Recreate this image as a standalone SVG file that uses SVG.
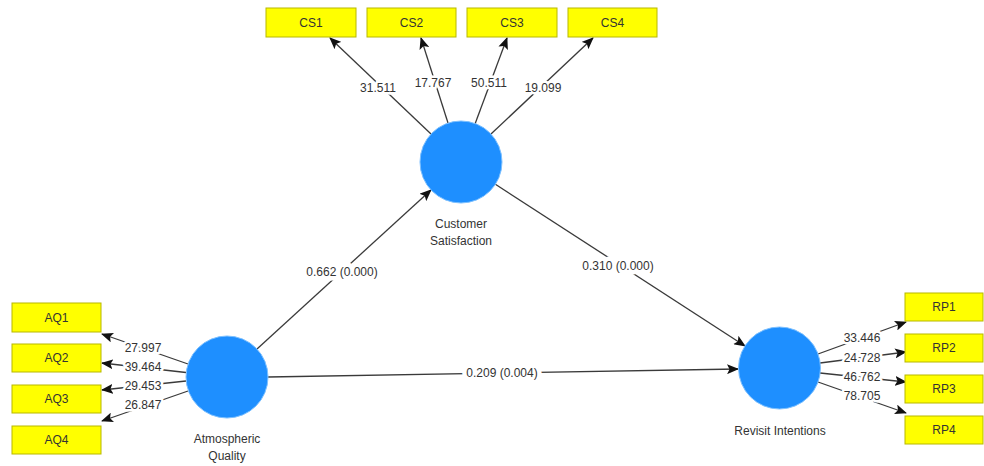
<svg xmlns="http://www.w3.org/2000/svg" width="984" height="466" viewBox="0 0 984 466">
<style>
text{font-family:"Liberation Sans",Arial,sans-serif;font-size:12px;fill:#333;text-anchor:middle}
.box{fill:#ffff00;stroke:#b8b800;stroke-width:1}
.lv{fill:#1e8fff;stroke:#7cc0ff;stroke-width:1}
.ln{stroke:#3a3a3a;stroke-width:1.3;fill:none;marker-end:url(#ah)}
.lbl{stroke:#fff;stroke-width:5;paint-order:stroke;stroke-linejoin:round}
</style>
<defs>
<marker id="ah" markerUnits="userSpaceOnUse" markerWidth="12" markerHeight="10" refX="11" refY="5" orient="auto">
<path d="M0,0 L12,5 L0,10 L2.5,5 z" fill="#111"/>
</marker>
</defs>
<rect width="984" height="466" fill="#fff"/>
<g id="connectors">
<line class="ln" x1="431" y1="134" x2="330" y2="38"/>
<line class="ln" x1="448" y1="123" x2="421" y2="38"/>
<line class="ln" x1="475" y1="124" x2="507" y2="38"/>
<line class="ln" x1="491" y1="134" x2="593" y2="38"/>
<line class="ln" x1="188" y1="364" x2="102" y2="334"/>
<line class="ln" x1="186" y1="372.5" x2="102" y2="363"/>
<line class="ln" x1="186" y1="381" x2="102" y2="390"/>
<line class="ln" x1="188" y1="391" x2="102" y2="421"/>
<line class="ln" x1="818" y1="354" x2="906" y2="322"/>
<line class="ln" x1="820" y1="363" x2="906" y2="352"/>
<line class="ln" x1="820" y1="373" x2="906" y2="382"/>
<line class="ln" x1="818" y1="382" x2="906" y2="413"/>
<line class="ln" x1="257" y1="349" x2="431" y2="190"/>
<line class="ln" x1="495" y1="184" x2="745" y2="346"/>
<line class="ln" x1="268" y1="377" x2="738" y2="369"/>
<text class="lbl" x="378" y="92">31.511</text>
<text class="lbl" x="433" y="87">17.767</text>
<text class="lbl" x="489" y="87">50.511</text>
<text class="lbl" x="543" y="92">19.099</text>
<text class="lbl" x="143" y="352">27.997</text>
<text class="lbl" x="143" y="371">39.464</text>
<text class="lbl" x="143" y="390">29.453</text>
<text class="lbl" x="143" y="409">26.847</text>
<text class="lbl" x="862" y="342">33.446</text>
<text class="lbl" x="862" y="362">24.728</text>
<text class="lbl" x="862" y="381">46.762</text>
<text class="lbl" x="862" y="400">78.705</text>
<text class="lbl" x="342" y="276" style="stroke-width:9">0.662 (0.000)</text>
<text class="lbl" x="618" y="270" style="stroke-width:9">0.310 (0.000)</text>
<text class="lbl" x="502" y="377" style="stroke-width:9">0.209 (0.004)</text>
</g>
<g id="CS">
<circle class="lv" cx="461" cy="162" r="41"/>
<text x="461" y="228">Customer</text>
<text x="461" y="245">Satisfaction</text>
</g>
<g id="AQ">
<circle class="lv" cx="227" cy="377" r="41"/>
<text x="227" y="443">Atmospheric</text>
<text x="227" y="460">Quality</text>
</g>
<g id="RI">
<circle class="lv" cx="779.5" cy="368" r="41"/>
<text x="780" y="435">Revisit Intentions</text>
</g>
<g id="CS1"><rect class="box" x="266" y="8" width="90" height="29"/><text x="311" y="27">CS1</text></g>
<g id="CS2"><rect class="box" x="367" y="8" width="89" height="29"/><text x="411.5" y="27">CS2</text></g>
<g id="CS3"><rect class="box" x="467" y="8" width="90" height="29"/><text x="512" y="27">CS3</text></g>
<g id="CS4"><rect class="box" x="568" y="8" width="89" height="29"/><text x="612.5" y="27">CS4</text></g>
<g id="AQ1"><rect class="box" x="12" y="303" width="89" height="29"/><text x="56.5" y="322">AQ1</text></g>
<g id="AQ2"><rect class="box" x="12" y="344" width="89" height="28"/><text x="56.5" y="362">AQ2</text></g>
<g id="AQ3"><rect class="box" x="12" y="385" width="89" height="28"/><text x="56.5" y="403">AQ3</text></g>
<g id="AQ4"><rect class="box" x="12" y="426" width="89" height="28"/><text x="56.5" y="444">AQ4</text></g>
<g id="RP1"><rect class="box" x="905" y="293" width="78" height="28"/><text x="944" y="311">RP1</text></g>
<g id="RP2"><rect class="box" x="905" y="334" width="78" height="28"/><text x="944" y="352">RP2</text></g>
<g id="RP3"><rect class="box" x="905" y="375" width="78" height="28"/><text x="944" y="393">RP3</text></g>
<g id="RP4"><rect class="box" x="905" y="416" width="78" height="28"/><text x="944" y="434">RP4</text></g>
</svg>
